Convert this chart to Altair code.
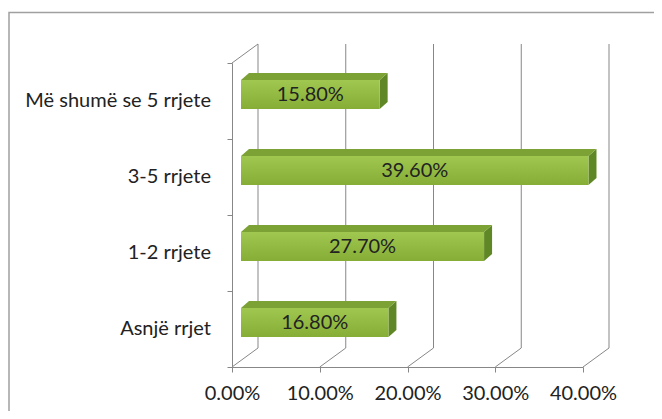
import altair as alt
import pandas as pd

# ---- data ----
categories = ["Asnjë rrjet", "1-2 rrjete", "3-5 rrjete", "Më shumë se 5 rrjete"]
values = [16.8, 27.7, 39.6, 15.8]
value_labels = ["16.80%", "27.70%", "39.60%", "15.80%"]
x_ticks = [0, 10, 20, 30, 40]

# ---- geometry (style) ----
W, H = 351, 304
X_MAX = 40
N = len(categories)
PXX = W / X_MAX
PXY = H / N


def ux(px):
    return px / PXX


def uy(px):
    return px / PXY


WALL_DX, WALL_DY = ux(26), uy(19)
BAR_DX, BAR_DY = ux(9), uy(6.5)
FACE_DX, FACE_DY = ux(8), uy(7)
HALF = uy(14.5)
Y_LO, Y_HI = -0.5, N - 0.5

FONT = "Lato"
FS = 20
TXT = "#222222"
LINE = "#878787"

xs = alt.Scale(domain=[0, X_MAX], nice=False, zero=False)
ys = alt.Scale(domain=[Y_LO, Y_HI], nice=False, zero=False)

AX_X = alt.Axis(
    values=x_ticks, labelExpr="format(datum.value, '.2f') + '%'",
    grid=False, title=None, tickSize=5, domainColor=LINE, tickColor=LINE,
    labelFont=FONT, labelFontSize=FS, labelColor=TXT, labelPadding=11,
    domainWidth=1, tickWidth=1, labelFlush=False, labelOverlap=False,
)
AX_Y = alt.Axis(
    values=[Y_LO + k for k in range(N + 1)], labels=False, grid=False,
    title=None, tickSize=5, domainColor=LINE, tickColor=LINE,
    domainWidth=1, tickWidth=1,
)

# ---- tables built from the arrays ----
bars = pd.DataFrame({
    "cat": categories,
    "i": list(range(N)),
    "v": values,
    "label": value_labels,
})
bars["x0"] = BAR_DX
bars["x1"] = bars["v"] + BAR_DX
bars["y0"] = bars["i"] + BAR_DY - HALF
bars["y1"] = bars["i"] + BAR_DY + HALF
bars["xm"] = BAR_DX + bars["v"] / 2
bars["ym"] = bars["i"] + BAR_DY

top_rows, side_rows = [], []
for _, r in bars.iterrows():
    top_rows.append({"cat": r["cat"], "y": r["y1"], "xa": r["x0"], "xb": r["x1"]})
    top_rows.append({"cat": r["cat"], "y": r["y1"] + FACE_DY,
                     "xa": r["x0"] + FACE_DX, "xb": r["x1"] + FACE_DX})
    side_rows.append({"cat": r["cat"], "x": r["x1"], "ya": r["y0"], "yb": r["y1"]})
    side_rows.append({"cat": r["cat"], "x": r["x1"] + FACE_DX,
                      "ya": r["y0"] + FACE_DY, "yb": r["y1"] + FACE_DY})
tops = pd.DataFrame(top_rows)
sides = pd.DataFrame(side_rows)

grid = pd.DataFrame({"t": x_ticks})
grid["xb"] = grid["t"] + WALL_DX
grid["ya"] = Y_LO + WALL_DY
grid["yb"] = Y_HI + WALL_DY
grid["ylo"] = Y_LO

wall_top = pd.DataFrame({"x": [0.0], "x2": [WALL_DX], "y": [Y_HI], "y2": [Y_HI + WALL_DY]})

# ---- layers ----
border = alt.Chart(pd.DataFrame({"a": [0]})).mark_rect(
    fill="white", fillOpacity=0, stroke="#a0a0a0", strokeWidth=1.5
).encode(
    x=alt.value(-223), x2=alt.value(520), y=alt.value(-50.5), y2=alt.value(430)
)

back_grid = alt.Chart(grid).mark_rule(color=LINE, strokeWidth=1).encode(
    x=alt.X("xb:Q", scale=xs, axis=AX_X),
    y=alt.Y("ya:Q", scale=ys, axis=AX_Y),
    y2="yb:Q",
)

floor_diag = alt.Chart(grid).mark_rule(color=LINE, strokeWidth=1).encode(
    x=alt.X("t:Q", scale=xs, axis=AX_X),
    x2="xb:Q",
    y=alt.Y("ylo:Q", scale=ys, axis=AX_Y),
    y2="ya:Q",
)

top_diag = alt.Chart(wall_top).mark_rule(color=LINE, strokeWidth=1).encode(
    x=alt.X("x:Q", scale=xs, axis=AX_X),
    x2="x2:Q",
    y=alt.Y("y:Q", scale=ys, axis=AX_Y),
    y2="y2:Q",
)

side_face = alt.Chart(sides).mark_area(orient="vertical", color="#5f8726", opacity=1).encode(
    x=alt.X("x:Q", scale=xs, axis=AX_X),
    y=alt.Y("ya:Q", scale=ys, axis=AX_Y),
    y2="yb:Q",
    detail="cat:N",
)

top_face = alt.Chart(tops).mark_area(orient="horizontal", color="#7ca236", opacity=1).encode(
    y=alt.Y("y:Q", scale=ys, axis=AX_Y),
    x=alt.X("xa:Q", scale=xs, axis=AX_X),
    x2="xb:Q",
    detail="cat:N",
)

front_face = alt.Chart(bars).mark_rect(
    color=alt.LinearGradient(
        gradient="linear", x1=0, y1=0, x2=0, y2=1,
        stops=[
            alt.GradientStop(color="#a0c74f", offset=0),
            alt.GradientStop(color="#94bc44", offset=0.45),
            alt.GradientStop(color="#86ad36", offset=1),
        ],
    )
).encode(
    x=alt.X("x0:Q", scale=xs, axis=AX_X),
    x2="x1:Q",
    y=alt.Y("y0:Q", scale=ys, axis=AX_Y),
    y2="y1:Q",
)

value_text = alt.Chart(bars).mark_text(
    font=FONT, fontSize=FS, color=TXT, align="center", baseline="middle"
).encode(
    x=alt.X("xm:Q", scale=xs, axis=AX_X),
    y=alt.Y("ym:Q", scale=ys, axis=AX_Y),
    text="label:N",
)

cat_text = alt.Chart(bars).mark_text(
    font=FONT, fontSize=FS, color=TXT, align="right", baseline="middle"
).encode(
    x=alt.value(-21),
    y=alt.Y("i:Q", scale=ys, axis=AX_Y),
    text="cat:N",
)

chart = alt.layer(
    border, back_grid, floor_diag, top_diag, side_face, top_face, front_face,
    value_text, cat_text,
).properties(
    width=W, height=H,
    padding={"left": 224, "top": 55, "right": 71, "bottom": 44},
    autosize=alt.AutoSizeParams(type="none"),
    background="white",
).configure_view(stroke=None)

chart.save("out.html", embed_options={"renderer": "svg", "actions": False})
